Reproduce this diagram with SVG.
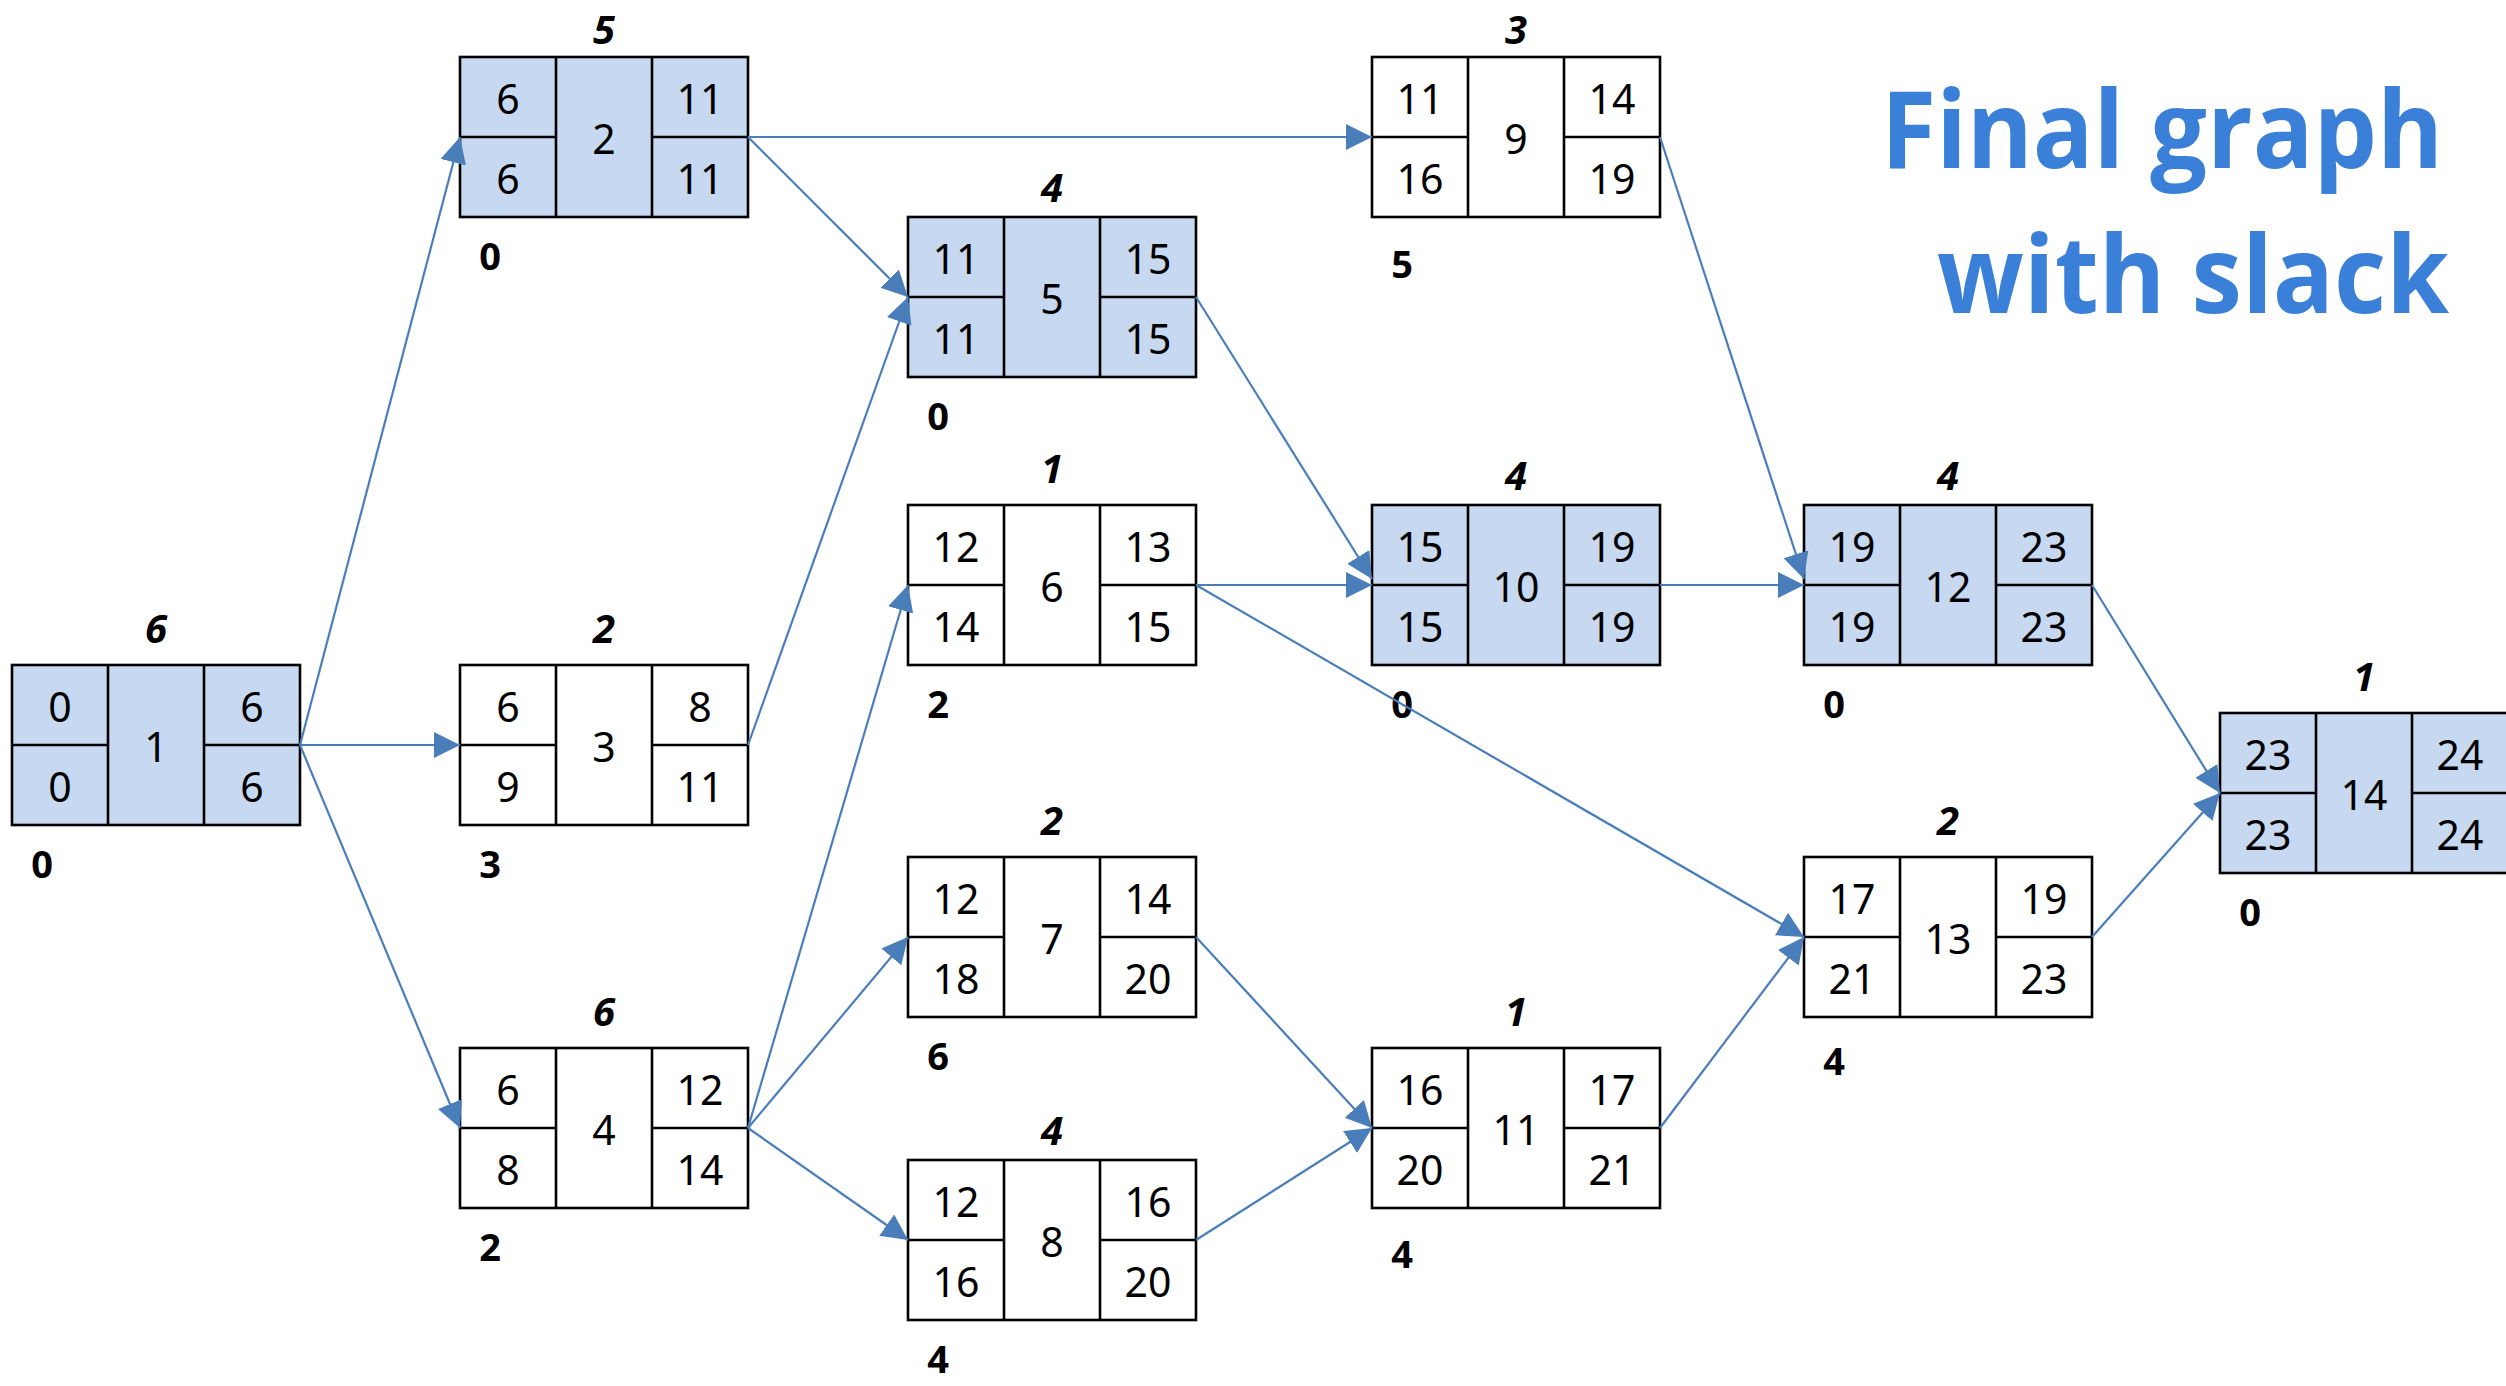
<svg xmlns="http://www.w3.org/2000/svg" width="2506" height="1386" viewBox="0 0 2506 1386">
  <style>
    .box { fill: #ffffff; stroke: #000000; stroke-width: 2.6; }
    .crit .box { fill: #c6d9f0; }
    .grid { fill: none; stroke: #000000; stroke-width: 2.6; }
    .cell { font-family: "Noto Sans", "Open Sans", sans-serif; font-size: 41px; fill: #000000; text-anchor: middle; }
    .dur { font-family: "Noto Sans", "Open Sans", sans-serif; font-size: 40px; font-weight: 700; font-style: italic; fill: #000000; text-anchor: middle; }
    .slack { font-family: "Noto Sans", "Open Sans", sans-serif; font-size: 38px; font-weight: 700; fill: #000000; text-anchor: middle; }
    .edge { fill: none; stroke: #4a7ebb; stroke-width: 2.2; marker-end: url(#tri); }
    .title { font-family: "Open Sans", "Noto Sans", sans-serif; font-size: 108px; font-weight: 700; fill: #3a80d8; text-anchor: end; }
  </style>
  <defs>
    <marker id="tri" markerUnits="userSpaceOnUse" markerWidth="28" markerHeight="28" refX="26" refY="13" orient="auto">
      <path d="M0,0 L26,13 L0,26 Z" fill="#4a7ebb"/>
    </marker>
  </defs>

  <rect width="2506" height="1386" fill="#ffffff"/>

  <!-- heading -->
  <g id="heading">
    <text class="title" x="2443" y="168" textLength="562" lengthAdjust="spacingAndGlyphs">Final graph</text>
    <text class="title" x="2449" y="313" textLength="512" lengthAdjust="spacingAndGlyphs">with slack</text>
  </g>

  <!-- activity boxes: ES | id | EF on top row, LS | id | LF on bottom row -->
  <g id="n1" class="node crit">
    <rect class="box" x="12" y="665" width="288" height="160"/>
    <path class="grid" d="M108 665v160M204 665v160M12 745h96M204 745h96"/>
    <text class="cell" x="60" y="722">0</text><text class="cell" x="60" y="802">0</text>
    <text class="cell" x="156" y="762">1</text>
    <text class="cell" x="252" y="722">6</text><text class="cell" x="252" y="802">6</text>
    <text class="dur" x="156" y="643">6</text>
    <text class="slack" x="42" y="878">0</text>
  </g>

  <g id="n2" class="node crit">
    <rect class="box" x="460" y="57" width="288" height="160"/>
    <path class="grid" d="M556 57v160M652 57v160M460 137h96M652 137h96"/>
    <text class="cell" x="508" y="114">6</text><text class="cell" x="508" y="194">6</text>
    <text class="cell" x="604" y="154">2</text>
    <text class="cell" x="700" y="114">11</text><text class="cell" x="700" y="194">11</text>
    <text class="dur" x="604" y="44">5</text>
    <text class="slack" x="490" y="270">0</text>
  </g>

  <g id="n3" class="node">
    <rect class="box" x="460" y="665" width="288" height="160"/>
    <path class="grid" d="M556 665v160M652 665v160M460 745h96M652 745h96"/>
    <text class="cell" x="508" y="722">6</text><text class="cell" x="508" y="802">9</text>
    <text class="cell" x="604" y="762">3</text>
    <text class="cell" x="700" y="722">8</text><text class="cell" x="700" y="802">11</text>
    <text class="dur" x="604" y="643">2</text>
    <text class="slack" x="490" y="878">3</text>
  </g>

  <g id="n4" class="node">
    <rect class="box" x="460" y="1048" width="288" height="160"/>
    <path class="grid" d="M556 1048v160M652 1048v160M460 1128h96M652 1128h96"/>
    <text class="cell" x="508" y="1105">6</text><text class="cell" x="508" y="1185">8</text>
    <text class="cell" x="604" y="1145">4</text>
    <text class="cell" x="700" y="1105">12</text><text class="cell" x="700" y="1185">14</text>
    <text class="dur" x="604" y="1026">6</text>
    <text class="slack" x="490" y="1261">2</text>
  </g>

  <g id="n5" class="node crit">
    <rect class="box" x="908" y="217" width="288" height="160"/>
    <path class="grid" d="M1004 217v160M1100 217v160M908 297h96M1100 297h96"/>
    <text class="cell" x="956" y="274">11</text><text class="cell" x="956" y="354">11</text>
    <text class="cell" x="1052" y="314">5</text>
    <text class="cell" x="1148" y="274">15</text><text class="cell" x="1148" y="354">15</text>
    <text class="dur" x="1052" y="202">4</text>
    <text class="slack" x="938" y="430">0</text>
  </g>

  <g id="n6" class="node">
    <rect class="box" x="908" y="505" width="288" height="160"/>
    <path class="grid" d="M1004 505v160M1100 505v160M908 585h96M1100 585h96"/>
    <text class="cell" x="956" y="562">12</text><text class="cell" x="956" y="642">14</text>
    <text class="cell" x="1052" y="602">6</text>
    <text class="cell" x="1148" y="562">13</text><text class="cell" x="1148" y="642">15</text>
    <text class="dur" x="1052" y="483">1</text>
    <text class="slack" x="938" y="718">2</text>
  </g>

  <g id="n7" class="node">
    <rect class="box" x="908" y="857" width="288" height="160"/>
    <path class="grid" d="M1004 857v160M1100 857v160M908 937h96M1100 937h96"/>
    <text class="cell" x="956" y="914">12</text><text class="cell" x="956" y="994">18</text>
    <text class="cell" x="1052" y="954">7</text>
    <text class="cell" x="1148" y="914">14</text><text class="cell" x="1148" y="994">20</text>
    <text class="dur" x="1052" y="835">2</text>
    <text class="slack" x="938" y="1070">6</text>
  </g>

  <g id="n8" class="node">
    <rect class="box" x="908" y="1160" width="288" height="160"/>
    <path class="grid" d="M1004 1160v160M1100 1160v160M908 1240h96M1100 1240h96"/>
    <text class="cell" x="956" y="1217">12</text><text class="cell" x="956" y="1297">16</text>
    <text class="cell" x="1052" y="1257">8</text>
    <text class="cell" x="1148" y="1217">16</text><text class="cell" x="1148" y="1297">20</text>
    <text class="dur" x="1052" y="1145">4</text>
    <text class="slack" x="938" y="1373">4</text>
  </g>

  <g id="n9" class="node">
    <rect class="box" x="1372" y="57" width="288" height="160"/>
    <path class="grid" d="M1468 57v160M1564 57v160M1372 137h96M1564 137h96"/>
    <text class="cell" x="1420" y="114">11</text><text class="cell" x="1420" y="194">16</text>
    <text class="cell" x="1516" y="154">9</text>
    <text class="cell" x="1612" y="114">14</text><text class="cell" x="1612" y="194">19</text>
    <text class="dur" x="1516" y="44">3</text>
    <text class="slack" x="1402" y="278">5</text>
  </g>

  <g id="n10" class="node crit">
    <rect class="box" x="1372" y="505" width="288" height="160"/>
    <path class="grid" d="M1468 505v160M1564 505v160M1372 585h96M1564 585h96"/>
    <text class="cell" x="1420" y="562">15</text><text class="cell" x="1420" y="642">15</text>
    <text class="cell" x="1516" y="602">10</text>
    <text class="cell" x="1612" y="562">19</text><text class="cell" x="1612" y="642">19</text>
    <text class="dur" x="1516" y="490">4</text>
    <text class="slack" x="1402" y="718">0</text>
  </g>

  <g id="n11" class="node">
    <rect class="box" x="1372" y="1048" width="288" height="160"/>
    <path class="grid" d="M1468 1048v160M1564 1048v160M1372 1128h96M1564 1128h96"/>
    <text class="cell" x="1420" y="1105">16</text><text class="cell" x="1420" y="1185">20</text>
    <text class="cell" x="1516" y="1145">11</text>
    <text class="cell" x="1612" y="1105">17</text><text class="cell" x="1612" y="1185">21</text>
    <text class="dur" x="1516" y="1026">1</text>
    <text class="slack" x="1402" y="1268">4</text>
  </g>

  <g id="n12" class="node crit">
    <rect class="box" x="1804" y="505" width="288" height="160"/>
    <path class="grid" d="M1900 505v160M1996 505v160M1804 585h96M1996 585h96"/>
    <text class="cell" x="1852" y="562">19</text><text class="cell" x="1852" y="642">19</text>
    <text class="cell" x="1948" y="602">12</text>
    <text class="cell" x="2044" y="562">23</text><text class="cell" x="2044" y="642">23</text>
    <text class="dur" x="1948" y="490">4</text>
    <text class="slack" x="1834" y="718">0</text>
  </g>

  <g id="n13" class="node">
    <rect class="box" x="1804" y="857" width="288" height="160"/>
    <path class="grid" d="M1900 857v160M1996 857v160M1804 937h96M1996 937h96"/>
    <text class="cell" x="1852" y="914">17</text><text class="cell" x="1852" y="994">21</text>
    <text class="cell" x="1948" y="954">13</text>
    <text class="cell" x="2044" y="914">19</text><text class="cell" x="2044" y="994">23</text>
    <text class="dur" x="1948" y="835">2</text>
    <text class="slack" x="1834" y="1075">4</text>
  </g>

  <g id="n14" class="node crit">
    <rect class="box" x="2220" y="713" width="288" height="160"/>
    <path class="grid" d="M2316 713v160M2412 713v160M2220 793h96M2412 793h96"/>
    <text class="cell" x="2268" y="770">23</text><text class="cell" x="2268" y="850">23</text>
    <text class="cell" x="2364" y="810">14</text>
    <text class="cell" x="2460" y="770">24</text><text class="cell" x="2460" y="850">24</text>
    <text class="dur" x="2364" y="691">1</text>
    <text class="slack" x="2250" y="926">0</text>
  </g>

  <!-- precedence arrows: right middle of a box to left middle of its successor -->
  <g id="connectors">
    <path class="edge" d="M300 745L460 137"/>
    <path class="edge" d="M300 745L460 745"/>
    <path class="edge" d="M300 745L460 1128"/>
    <path class="edge" d="M748 137L1372 137"/>
    <path class="edge" d="M748 137L908 297"/>
    <path class="edge" d="M748 745L908 297"/>
    <path class="edge" d="M748 1128L908 585"/>
    <path class="edge" d="M748 1128L908 937"/>
    <path class="edge" d="M748 1128L908 1240"/>
    <path class="edge" d="M1196 297L1372 579"/>
    <path class="edge" d="M1196 585L1372 585"/>
    <path class="edge" d="M1196 585L1804 937"/>
    <path class="edge" d="M1196 937L1372 1128"/>
    <path class="edge" d="M1196 1240L1372 1128"/>
    <path class="edge" d="M1660 137L1804 579"/>
    <path class="edge" d="M1660 585L1804 585"/>
    <path class="edge" d="M1660 1128L1804 937"/>
    <path class="edge" d="M2092 585L2220 793"/>
    <path class="edge" d="M2092 937L2220 793"/>
  </g>
</svg>
